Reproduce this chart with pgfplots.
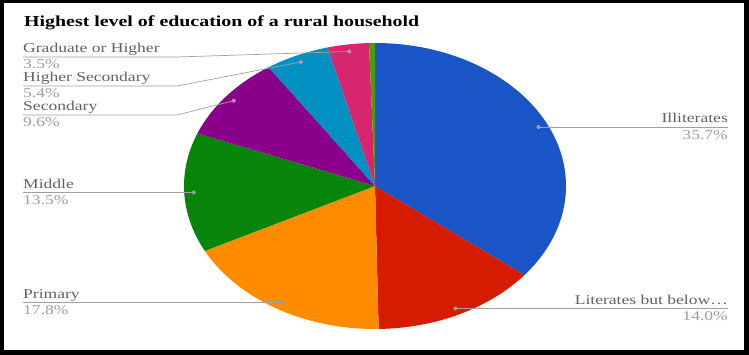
\documentclass[border=0pt]{standalone}
\usepackage{pgfplots}
\pgfplotsset{compat=1.18}
\usepackage{fontspec}
\setmainfont{Liberation Serif}[FakeStretch=1.3]
\definecolor{cIll}{HTML}{1A55C8}
\definecolor{cLit}{HTML}{D61C00}
\definecolor{cPri}{HTML}{FF8C00}
\definecolor{cMid}{HTML}{06850A}
\definecolor{cSec}{HTML}{8B008B}
\definecolor{cHS}{HTML}{0090C2}
\definecolor{cGrad}{HTML}{D8266E}
\definecolor{cOth}{HTML}{4A9A0A}
\definecolor{namec}{HTML}{616161}
\definecolor{valc}{HTML}{9E9E9E}
\definecolor{linec}{HTML}{A0A0A0}
\newcommand\lab{\fontsize{13.5}{16}\selectfont}
\begin{document}
\begin{tikzpicture}
\begin{axis}[width=749pt,height=355pt,scale only axis,
  xmin=0,xmax=749,ymin=0,ymax=355,y dir=reverse,hide axis,clip=false]
\fill[black] (axis cs:0,0) rectangle (axis cs:749,355);
\fill[white] (axis cs:4,3) rectangle (axis cs:744,350);
% pie: values in percent, clockwise from the top
\pgfmathsetmacro\cum{0}
\pgfplotsforeachungrouped \v/\col in {35.7/cIll,14.0/cLit,17.8/cPri,13.5/cMid,9.6/cSec,5.4/cHS,3.5/cGrad,0.5/cOth}{
  \pgfmathsetmacro\sa{90-3.6*\cum}
  \pgfmathsetmacro\ea{90-3.6*(\cum+\v)}
  \edef\tmp{\noexpand\fill[\col] (axis cs:375,186) -- ([shift={(\sa:191pt and 143pt)}]axis cs:375,186) arc[start angle=\sa,end angle=\ea,x radius=191pt,y radius=143pt] -- cycle;}
  \tmp
  \pgfmathsetmacro\cum{\cum+\v}
}
% leader lines
\draw[linec,line width=0.7pt] (axis cs:538.4,127) -- (axis cs:728,127);
\draw[linec,line width=0.7pt] (axis cs:455.4,308.5) -- (axis cs:728,308.5);
\draw[linec,line width=0.7pt] (axis cs:23,302.7) -- (axis cs:281.6,302.7);
\draw[linec,line width=0.7pt] (axis cs:23,192.4) -- (axis cs:193.8,192.4);
\draw[linec,line width=0.7pt] (axis cs:23,115) -- (axis cs:177,115) -- (axis cs:233.8,100.7);
\draw[linec,line width=0.7pt] (axis cs:23,86) -- (axis cs:177,86) -- (axis cs:300.9,62);
\draw[linec,line width=0.7pt] (axis cs:23,57) -- (axis cs:177,57) -- (axis cs:349.4,51.5);
\fill[linec] (axis cs:538.4,127) circle[radius=2pt];
\fill[linec] (axis cs:455.4,308.5) circle[radius=2pt];
\fill[linec] (axis cs:281.6,302.7) circle[radius=2pt];
\fill[linec] (axis cs:193.8,192.4) circle[radius=2pt];
\fill[linec] (axis cs:233.8,100.7) circle[radius=2pt];
\fill[linec] (axis cs:300.9,62) circle[radius=2pt];
\fill[linec] (axis cs:349.4,51.5) circle[radius=2pt];
% labels
\node[anchor=base east,inner sep=0,text=namec] at (axis cs:728,123) {\lab Illiterates};
\node[anchor=base east,inner sep=0,text=valc] at (axis cs:728,139.5) {\lab 35.7\%};
\node[anchor=base east,inner sep=0,text=namec] at (axis cs:728,304.5) {\lab Literates but below…};
\node[anchor=base east,inner sep=0,text=valc] at (axis cs:728,320.5) {\lab 14.0\%};
\node[anchor=base west,inner sep=0,text=namec] at (axis cs:23,298.7) {\lab Primary};
\node[anchor=base west,inner sep=0,text=valc] at (axis cs:23,314.7) {\lab 17.8\%};
\node[anchor=base west,inner sep=0,text=namec] at (axis cs:23,188.4) {\lab Middle};
\node[anchor=base west,inner sep=0,text=valc] at (axis cs:23,204.4) {\lab 13.5\%};
\node[anchor=base west,inner sep=0,text=namec] at (axis cs:23,111) {\lab Secondary};
\node[anchor=base west,inner sep=0,text=valc] at (axis cs:23,127) {\lab 9.6\%};
\node[anchor=base west,inner sep=0,text=namec] at (axis cs:23,82) {\lab Higher Secondary};
\node[anchor=base west,inner sep=0,text=valc] at (axis cs:23,98) {\lab 5.4\%};
\node[anchor=base west,inner sep=0,text=namec] at (axis cs:23,53) {\lab Graduate or Higher};
\node[anchor=base west,inner sep=0,text=valc] at (axis cs:23,69) {\lab 3.5\%};
% title
\node[anchor=base west,inner sep=0,text=black] at (axis cs:24,27) {\fontsize{15.3}{18}\selectfont\bfseries Highest level of education of a rural household};
\end{axis}
\end{tikzpicture}
\end{document}
